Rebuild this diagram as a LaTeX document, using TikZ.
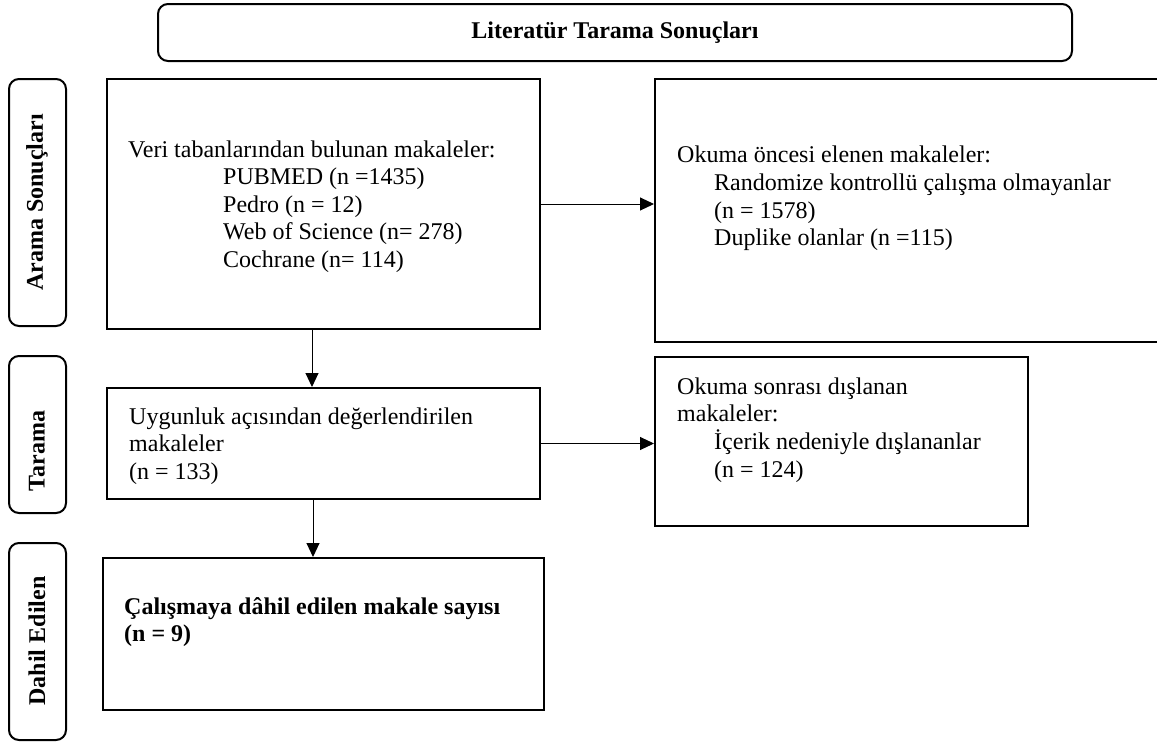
\documentclass[tikz,border=0pt]{standalone}
\usepackage{fontspec}
\setmainfont{Liberation Serif}
\usetikzlibrary{arrows.meta,positioning}

\begin{document}
\begin{tikzpicture}[x=1pt, y=-1pt,
    box/.style={draw, line width=2pt, inner sep=0pt},
    side/.style={box, rounded corners=10pt},
    txt/.style={align=left, inner sep=0pt, anchor=west, font=\fontsize{24}{27.6}\selectfont},
    head/.style={inner sep=0pt, font=\fontsize{24}{27.6}\selectfont\bfseries},
    arr/.style={line width=1pt, -{Triangle[length=14pt, width=13pt]}}]
    \useasboundingbox (0, 0) rectangle (1157, 742);

    \node[side, minimum width=914pt, minimum height=57pt] at (615, 32.5)(top){};
    \node[side, minimum width=57pt, minimum height=247pt] at (37.5, 202.5)(s1){};
    \node[side, minimum width=57pt, minimum height=157pt] at (37.5, 434.5)(s2){};
    \node[side, minimum width=57pt, minimum height=197pt] at (37.5, 641.5)(s3){};

    \node[box, minimum width=433pt, minimum height=250pt] at (323.5, 204)(b1){};
    \node[box, minimum width=503pt, minimum height=263pt] at (906.5, 210.5)(b2){};
    \node[box, minimum width=433pt, minimum height=111pt] at (323.5, 443.5)(b3){};
    \node[box, minimum width=373pt, minimum height=169pt] at (841.5, 441.5)(b4){};
    \node[box, minimum width=441pt, minimum height=152pt] at (323.5, 634)(b5){};

    \node[head] at (615, 33)(t0){Literatür Tarama Sonuçları};
    \node[head, rotate=90] at (37, 202.5)(t1){Arama Sonuçları};
    \node[head, rotate=90] at (37, 451)(t2){Tarama};
    \node[head, rotate=90] at (37, 641)(t3){Dahil Edilen};

    \node[txt] at (128, 206.5)(t4){Veri tabanlarından bulunan makaleler:\\
        \hspace*{95pt}PUBMED (n =1435)\\
        \hspace*{95pt}Pedro (n = 12)\\
        \hspace*{95pt}Web of Science (n= 278)\\
        \hspace*{95pt}Cochrane (n= 114)};
    \node[txt] at (677, 198.5)(t5){Okuma öncesi elenen makaleler:\\
        \hspace*{37pt}Randomize kontrollü çalışma olmayanlar\\
        \hspace*{37pt}(n = 1578)\\
        \hspace*{37pt}Duplike olanlar (n =115)};
    \node[txt] at (129, 446)(t6){Uygunluk açısından değerlendirilen\\
        makaleler\\
        (n = 133)};
    \node[txt] at (677, 430)(t7){Okuma sonrası dışlanan\\
        makaleler:\\
        \hspace*{37pt}İçerik nedeniyle dışlananlar\\
        \hspace*{37pt}(n = 124)};
    \node[txt, font=\fontsize{24}{27.6}\selectfont\bfseries] at (124, 622)(t8){Çalışmaya dâhil edilen makale sayısı\\
        (n = 9)};

    \coordinate (d1) at (312, 329);
    \coordinate (d2) at (313, 499);

    \path[arr]
        (b1.east)edge(b1.east -| b2.west)
        (b3.east)edge(b3.east -| b4.west)
        (d1)edge(d1 |- b3.north)
        (d2)edge(d2 |- b5.north)
        ;
\end{tikzpicture}
\end{document}
